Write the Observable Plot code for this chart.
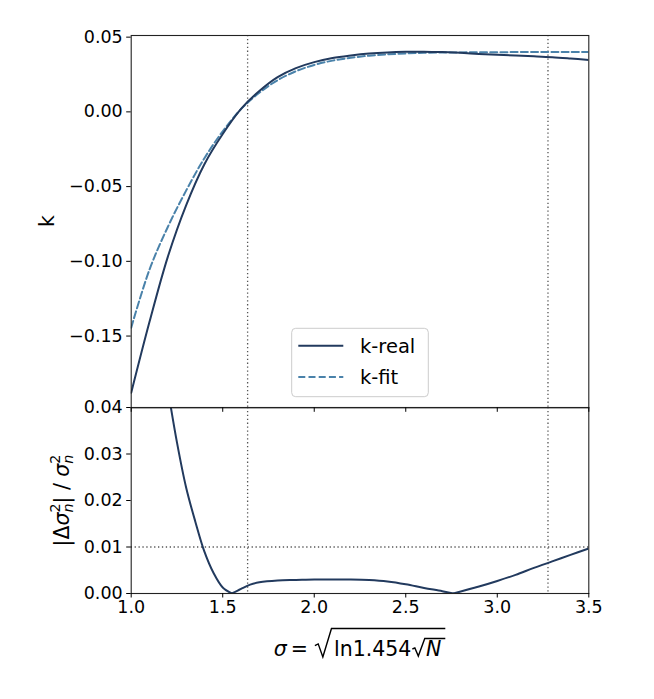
<!DOCTYPE html>
<html>
<head>
<meta charset="utf-8">
<script src="https://cdn.jsdelivr.net/npm/d3@7"></script>
<script src="https://cdn.jsdelivr.net/npm/@observablehq/plot@0.6"></script>
<style>
  html, body { margin: 0; padding: 0; background: white; }
  #wrap { position: relative; width: 654px; height: 699px; background: white; font-family: "DejaVu Sans", sans-serif; overflow: hidden; }
  #wrap > svg, #wrap > div { position: absolute; left: 0; }
  #overlay { position: absolute; left: 0; top: 0; pointer-events: none; }
</style>
</head>
<body>
<div id="wrap"></div>
<script>
// ---------- data ----------
const xTicks = [1.0, 1.5, 2.0, 2.5, 3.0, 3.5];
const kTicks = [-0.15, -0.10, -0.05, 0.00, 0.05];
const errTicks = [0.00, 0.01, 0.02, 0.03, 0.04];

// sigma for N = 1e2 and N = 1e9 (vertical dotted lines)
const markerSigma = [1.636, 3.277];
const errThreshold = [0.01];

const kRealSigma = [1.00,1.10,1.20,1.30,1.40,1.50,1.60,1.70,1.80,1.90,2.00,2.10,2.20,2.30,2.40,2.50,2.60,2.70,2.80,2.90,3.00,3.10,3.20,3.30,3.40,3.50];
const kRealValue = [-0.188,-0.1405,-0.097,-0.0625,-0.035,-0.0148,0.0020,0.0140,0.0233,0.0293,0.0333,0.0360,0.0377,0.0390,0.0398,0.0402,0.0403,0.0400,0.0395,0.0388,0.0382,0.0377,0.0372,0.0366,0.0357,0.0347];

const kFitSigma = [1.00,1.10,1.20,1.30,1.40,1.50,1.60,1.70,1.80,1.90,2.00,2.10,2.20,2.30,2.40,2.50,2.60,2.70,2.80,2.90,3.00,3.10,3.20,3.30,3.40,3.50];
const kFitValue = [-0.1444,-0.1055,-0.077,-0.0527,-0.031,-0.0130,0.0018,0.0128,0.0212,0.0272,0.0314,0.0343,0.0362,0.0376,0.0385,0.0391,0.0395,0.0397,0.0398,0.0399,0.0399,0.0400,0.0400,0.0400,0.0400,0.0400];

const errSigma = [1.20,1.25,1.30,1.35,1.40,1.45,1.50,1.55,1.60,1.65,1.70,1.80,1.90,2.00,2.10,2.20,2.30,2.40,2.50,2.60,2.70,2.76,2.90,3.00,3.10,3.20,3.30,3.40,3.50];
const errValue = [0.0440,0.0325,0.0228,0.0155,0.0090,0.0044,0.0013,0,0.0010,0.0019,0.0024,0.0028,0.0029,0.0030,0.0030,0.0030,0.0029,0.0026,0.0020,0.0012,0.0005,0,0.0015,0.0027,0.0040,0.0055,0.0069,0.0083,0.0097];

const seriesNames = ["k-real", "k-fit"];
const colReal = "#223a5e";
const colFit = "#4a82aa";
const colDot = "#555555";

// ---------- rows ----------
const kRealRows = kRealSigma.map((s, i) => ({s, k: kRealValue[i]}));
const kFitRows = kFitSigma.map((s, i) => ({s, k: kFitValue[i]}));
const errRows = [];
{
  let seg = 0;
  errSigma.forEach((s, i) => {
    errRows.push({s, v: errValue[i], seg});
    if (errValue[i] === 0 && i > 0 && i < errSigma.length - 1) {
      seg++;
      errRows.push({s, v: errValue[i], seg});
    }
  });
}

const fmt2 = d => (d < 0 ? "\u2212" : "") + Math.abs(d).toFixed(2);
const fmt1 = d => d.toFixed(1);

const W = 654;
const ML = 130.7, MR = W - 588.3;
const frameTop = 35, frameMid = 407.3, frameBot = 593.3;
const dotted = {stroke: colDot, strokeWidth: 1.3, strokeDasharray: "1.3,2.6"};
const FS = 17.5;
const baseStyle = {background: "transparent", fontFamily: "DejaVu Sans, sans-serif", fontSize: FS + "px", color: "black", overflow: "visible"};

// ---------- bottom panel ----------
const bTopM = 12;
const bottomPlot = Plot.plot({
  width: W, height: bTopM + (frameBot - frameMid) + 45,
  marginTop: bTopM, marginBottom: 45, marginLeft: ML, marginRight: MR,
  style: baseStyle,
  x: {domain: [1, 3.5]},
  y: {domain: [0, 0.04]},
  marks: [
    Plot.ruleX(markerSigma, dotted),
    Plot.ruleY(errThreshold, dotted),
    Plot.line(errRows, {x: "s", y: "v", z: "seg", stroke: colReal, strokeWidth: 2, curve: "catmull-rom", clip: true}),
    Plot.frame({stroke: "#222", strokeWidth: 1.1}),
    Plot.axisY({ticks: errTicks, tickFormat: fmt2, tickSize: 4.5, tickPadding: 4, label: null, fontSize: FS}),
    Plot.axisX({ticks: xTicks, tickFormat: fmt1, tickSize: 4.5, tickPadding: 3, label: null, fontSize: FS})
  ]
});
bottomPlot.style.top = (frameMid - bTopM) + "px";

// ---------- top panel ----------
const topPlot = Plot.plot({
  width: W, height: frameMid + 6,
  marginTop: frameTop, marginBottom: 6, marginLeft: ML, marginRight: MR,
  style: baseStyle,
  x: {domain: [1, 3.5]},
  y: {domain: [-0.198, 0.0511]},
  marks: [
    Plot.ruleX(markerSigma, dotted),
    Plot.line(kFitRows, {x: "s", y: "k", stroke: colFit, strokeWidth: 2, strokeDasharray: "7,3.2", curve: "catmull-rom", clip: true}),
    Plot.line(kRealRows, {x: "s", y: "k", stroke: colReal, strokeWidth: 2, curve: "catmull-rom", clip: true}),
    Plot.frame({stroke: "#222", strokeWidth: 1.1}),
    Plot.axisY({ticks: kTicks, tickFormat: fmt2, tickSize: 4.5, tickPadding: 4, label: null, fontSize: FS}),
    Plot.axisX({ticks: xTicks, tickFormat: () => "", tickSize: 4.5, label: null})
  ]
});
topPlot.style.top = "0px";

const wrap = document.getElementById("wrap");
wrap.appendChild(bottomPlot);
wrap.appendChild(topPlot);

// ---------- overlay: labels and legend ----------
const NS = "http://www.w3.org/2000/svg";
const ov = document.createElementNS(NS, "svg");
ov.setAttribute("id", "overlay");
ov.setAttribute("width", W);
ov.setAttribute("height", 699);
ov.setAttribute("font-family", "DejaVu Sans, sans-serif");
wrap.appendChild(ov);

function el(tag, attrs, parent = ov) {
  const e = document.createElementNS(NS, tag);
  for (const k in attrs) e.setAttribute(k, attrs[k]);
  parent.appendChild(e);
  return e;
}

// y label "k"
const tk = el("text", {transform: "translate(54,221) rotate(-90)", "text-anchor": "middle", "font-size": 20.5});
tk.textContent = "k";

// y label bottom: |Δσ_n^2| / σ_n^2
const yl = el("text", {transform: "translate(68.5,500.5) rotate(-90)", "text-anchor": "middle", "font-size": 20.5});
function ts(parent, txt, attrs) { const t = el("tspan", attrs || {}, parent); t.textContent = txt; return t; }
ts(yl, "|\u0394");
ts(yl, "\u03c3", {"font-style": "italic"});
ts(yl, "2", {"font-size": 14.3, dy: -8.7});
ts(yl, "n", {"font-size": 14.3, "font-style": "italic", dx: -9.1, dy: 13.3});
ts(yl, "| / ", {dy: -4.6});
ts(yl, "\u03c3", {"font-style": "italic"});
ts(yl, "2", {"font-size": 14.3, dy: -8.7});
ts(yl, "n", {"font-size": 14.3, "font-style": "italic", dx: -9.1, dy: 13.3});

// x label: σ = √(ln1.454 √N)
{
  const B = 655.5, fs = 20.5;
  const g = el("g", {});
  function txt(s, italic) {
    const t = el("text", {y: B, "font-size": fs, "font-style": italic ? "italic" : "normal"}, g);
    t.textContent = s;
    return {node: t, w: t.getComputedTextLength()};
  }
  const pSig = txt("\u03c3", true);
  const pEq = txt("=", false);
  const pLn = txt("ln1.454", false);
  const pN = txt("N", true);
  const r1w = 16.6, r2w = 12.4;
  const gaps = [4, 7, 2.5, 1, 1.2];
  const tail = 4;
  const total = pSig.w + gaps[0] + pEq.w + gaps[1] + r1w + gaps[2] + pLn.w + gaps[3] + r2w + gaps[4] + pN.w + tail;
  let x = 359.5 - total / 2;
  pSig.node.setAttribute("x", x); x += pSig.w + gaps[0];
  pEq.node.setAttribute("x", x); x += pEq.w + gaps[1];
  const r1x = x; x += r1w + gaps[2];
  pLn.node.setAttribute("x", x); x += pLn.w + gaps[3];
  const r2x = x; x += r2w + gaps[4];
  pN.node.setAttribute("x", x); x += pN.w + tail;
  const endX = x;
  function radical(rx, w, topY, botY) {
    const h = botY - topY;
    const d = `M${rx},${botY - h * 0.40} L${rx + w * 0.2},${botY - h * 0.46} L${rx + w * 0.48},${botY} L${rx + w},${topY} L${endX},${topY}`;
    el("path", {d, fill: "none", stroke: "black", "stroke-width": 1.4, "stroke-linejoin": "miter"}, g);
  }
  radical(r1x, r1w, 628.5, 657);
  radical(r2x, r2w, 638.5, 656);
}

// legend
{
  const lg = el("g", {});
  el("rect", {x: 291.7, y: 328.3, width: 136.6, height: 68.4, rx: 4, fill: "white", "fill-opacity": 0.8, stroke: "#cccccc", "stroke-width": 1}, lg);
  el("line", {x1: 298.3, x2: 343.3, y1: 345.7, y2: 345.7, stroke: colReal, "stroke-width": 2}, lg);
  el("line", {x1: 298.3, x2: 343.3, y1: 377, y2: 377, stroke: colFit, "stroke-width": 2, "stroke-dasharray": "7,3.2"}, lg);
  const t1 = el("text", {x: 360, y: 353, "font-size": 19.5}, lg); t1.textContent = seriesNames[0];
  const t2 = el("text", {x: 360, y: 384.3, "font-size": 19.5}, lg); t2.textContent = seriesNames[1];
}
</script>
</body>
</html>
